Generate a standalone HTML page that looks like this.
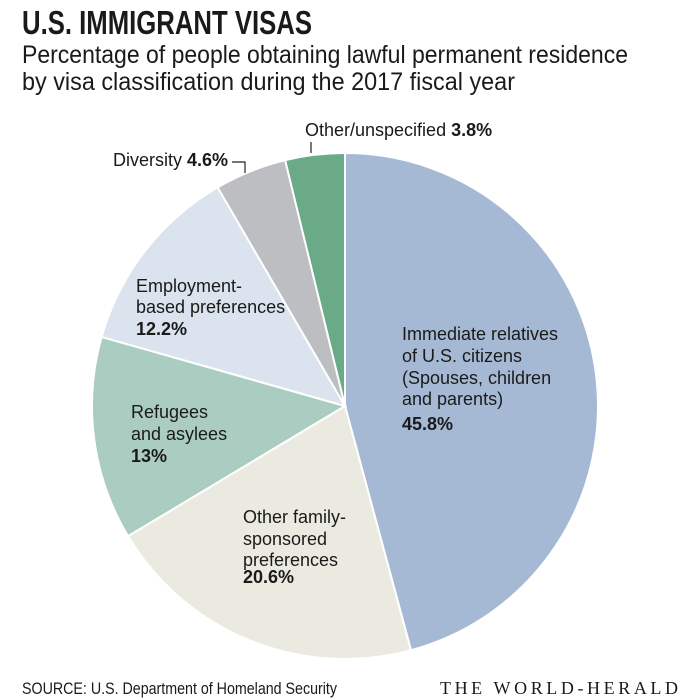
<!DOCTYPE html>
<html><head><meta charset="utf-8"><style>
html,body{margin:0;padding:0;background:#fff;}
svg{display:block;}
text{font-family:"Liberation Sans Narrow","Liberation Sans",sans-serif;fill:#1a1a1a;}
.b{font-weight:bold;}
</style></head><body>
<svg id="chart" width="700" height="700" viewBox="0 0 700 700">
<text x="22" y="34" font-size="33" class="b" textLength="290" lengthAdjust="spacingAndGlyphs">U.S. IMMIGRANT VISAS</text>
<text x="22" y="63" font-size="25" textLength="606" lengthAdjust="spacingAndGlyphs">Percentage of people obtaining lawful permanent residence</text>
<text x="22" y="90" font-size="25" textLength="493" lengthAdjust="spacingAndGlyphs">by visa classification during the 2017 fiscal year</text>
<g id="slices"></g>
<g id="labels">
<text x="305" y="136" font-size="18">Other/unspecified <tspan class="b">3.8%</tspan></text>
<line x1="311" y1="142" x2="311" y2="153" stroke="#222" stroke-width="1.2"/>
<text x="113" y="166" font-size="18">Diversity <tspan class="b">4.6%</tspan></text>
<polyline points="232,162 245,162 245,173" fill="none" stroke="#222" stroke-width="1.2"/>
<text font-size="18"><tspan x="136" y="292">Employment-</tspan><tspan x="136" y="313">based preferences</tspan><tspan x="136" y="335" class="b">12.2%</tspan></text>
<text font-size="18"><tspan x="131" y="418">Refugees</tspan><tspan x="131" y="440">and asylees</tspan><tspan x="131" y="462" class="b">13%</tspan></text>
<text font-size="18"><tspan x="243" y="523">Other family-</tspan><tspan x="243" y="545">sponsored</tspan><tspan x="243" y="566">preferences</tspan><tspan x="243" y="583" dy="0" class="b">20.6%</tspan></text>
<text font-size="18"><tspan x="402" y="340">Immediate relatives</tspan><tspan x="402" y="362">of U.S. citizens</tspan><tspan x="402" y="384">(Spouses, children</tspan><tspan x="402" y="405">and parents)</tspan><tspan x="402" y="430" class="b">45.8%</tspan></text>
</g>
<text x="22" y="694" font-size="17" textLength="315" lengthAdjust="spacingAndGlyphs">SOURCE: U.S. Department of Homeland Security</text>
<text x="440" y="694" font-size="18" textLength="238" lengthAdjust="spacing" style="font-family:'Liberation Serif',serif">THE WORLD-HERALD</text>
</svg>
<script>
const categories = ["Immediate relatives","Other family-sponsored","Refugees and asylees","Employment-based","Diversity","Other/unspecified"];
const values = [45.8, 20.6, 13, 12.2, 4.6, 3.8];
const colors = ["#a6b9d4","#ebeae1","#abcdc1","#dae3ee","#bdbec2","#6aaa86"];
const cx = 345, cy = 406, r = 253;
const total = values.reduce((a,b)=>a+b,0);
const g = document.getElementById('slices');
let acc = 0;
function pt(frac){const a = frac*2*Math.PI - Math.PI/2; return [cx + r*Math.cos(a), cy + r*Math.sin(a)];}
values.forEach((v,i)=>{
  const f0 = acc/total; acc += v; const f1 = acc/total;
  const [x0,y0] = pt(f0), [x1,y1] = pt(f1);
  const large = (f1-f0) > 0.5 ? 1 : 0;
  const p = document.createElementNS('http://www.w3.org/2000/svg','path');
  p.setAttribute('d', `M${cx},${cy} L${x0},${y0} A${r},${r} 0 ${large} 1 ${x1},${y1} Z`);
  p.setAttribute('fill', colors[i]);
  p.setAttribute('stroke', '#fff');
  p.setAttribute('stroke-width', '2');
  
  
  g.appendChild(p);
});
</script>
</body></html>
